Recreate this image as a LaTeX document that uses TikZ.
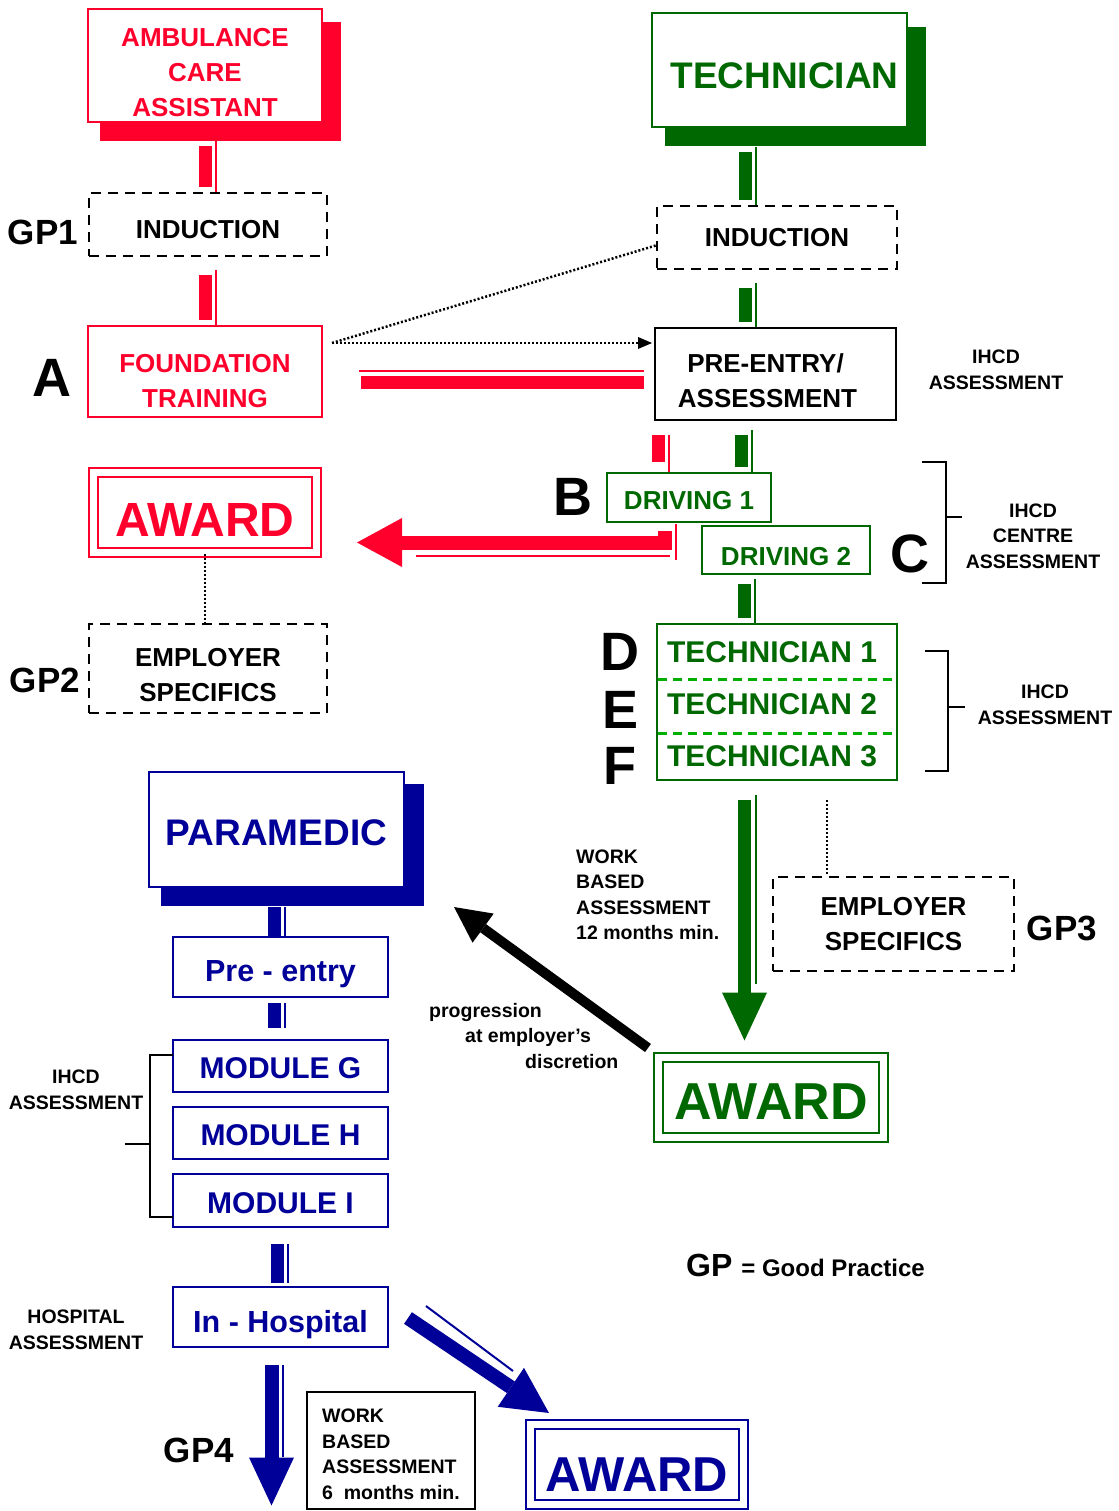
\documentclass[tikz,border=0pt]{standalone}
\usepackage{fontspec}
\setmainfont{Liberation Sans}
\usetikzlibrary{arrows.meta,calc,backgrounds}
\definecolor{acared}{RGB}{255,0,45}
\definecolor{techgreen}{RGB}{0,104,0}
\definecolor{sepgreen}{RGB}{0,175,0}
\definecolor{parablue}{RGB}{0,0,153}
\newcommand{\fsz}[2]{\fontsize{#1}{#2}\selectfont\bfseries}
\newcommand{\topline}[1]{\rule{0pt}{#1pt}}
\newcommand{\twin}[4][]{%
  \draw[#2, line width=13pt, shorten <=5pt, shorten >=5pt, #1] (#3) -- (#4);
  \draw[#2, line width=2pt] ($(#3)!11pt!90:(#4)$) -- ($(#4)!11pt!-90:(#3)$);
}
\tikzset{
  wh/.style 2 args={minimum width=#1pt, minimum height=#2pt},
  lift/.style={execute at begin node={\rule{0pt}{#1pt}}},
  box/.style={draw, line width=2pt, fill=white, inner sep=0pt, align=center},
  acabox/.style={box, draw=acared, text=acared},
  techbox/.style={box, draw=techgreen, text=techgreen},
  parabox/.style={box, draw=parablue, text=parablue},
  gpbox/.style={box, line width=2.5pt, dash pattern=on 10pt off 7pt},
  awardbox/.style={double, double distance=7pt, font=\fsz{48}{48}},
  gplabel/.style={inner sep=0pt, font=\fsz{35}{35}},
  letter/.style={inner sep=0pt, font=\fsz{54}{54}},
  note/.style={inner sep=0pt, align=center, font=\fsz{19.5}{25.5}},
  dots/.style={line width=2.5pt, dash pattern=on 2pt off 2pt},
  bracket/.style={line width=2pt},
  sepline/.style={sepgreen, line width=3pt, dash pattern=on 9pt off 6pt},
}
\begin{document}
\begin{tikzpicture}[x=1pt, y=-1pt]
\useasboundingbox (0,0) rectangle (1118,1511);

\node[acabox, wh={234}{113}, font=\fsz{26}{35}] (aca) at (205,65.5) {\topline{32.7}AMBULANCE\\CARE\\ASSISTANT};
\node[gpbox, wh={238}{63}, lift=28.7, font=\fsz{26}{35}] (ind1) at (208,224.5) {INDUCTION};
\node[acabox, wh={234}{91}, font=\fsz{26}{35}] (found) at (205,371.5) {\topline{36.7}FOUNDATION\\TRAINING};
\node[acabox, awardbox, wh={223}{80}, lift=48.6] (awr) at (205,512.5) {AWARD};
\node[gpbox, wh={238}{89}, font=\fsz{26}{35}] (emp1) at (208,668.5) {\topline{30.7}EMPLOYER\\SPECIFICS};

\node[techbox, wh={255}{114}, lift=36.6, font=\fsz{37}{37}] (tech) at (779.5,70) {\hspace*{10pt}TECHNICIAN};
\node[gpbox, wh={240}{63}, font=\fsz{26}{35}] (ind2) at (777,237.5) {INDUCTION};
\node[box, wh={241}{92}, font=\fsz{26}{35}] (pre) at (775.5,374) {\topline{32.7}PRE-ENTRY/\hspace*{20pt}\\ASSESSMENT\hspace*{16pt}};
\node[techbox, wh={164}{49}, lift=24.7, font=\fsz{26}{35}] (drv1) at (689,497.5) {DRIVING 1};
\node[techbox, wh={168}{48}, lift=30.7, font=\fsz{26}{35}] (drv2) at (786,550) {DRIVING 2};
\node[techbox, wh={240}{156}] (techs) at (777,702) {};
\node[inner sep=0pt, text=techgreen, font=\fsz{30}{30}] (t1) at (772,652) {TECHNICIAN 1};
\node[inner sep=0pt, text=techgreen, font=\fsz{30}{30}] (t2) at (772,704) {TECHNICIAN 2};
\node[inner sep=0pt, text=techgreen, font=\fsz{30}{30}] (t3) at (772,756) {TECHNICIAN 3};
\node[gpbox, wh={241}{94}, font=\fsz{26}{35}] (emp2) at (893.5,924) {EMPLOYER\\SPECIFICS};
\node[techbox, awardbox, wh={225}{80}, lift=43.4, font=\fsz{52}{52}] (awg) at (771,1097.5) {AWARD};

\node[parabox, wh={255}{115}, lift=32.6, font=\fsz{37}{37}] (para) at (276.5,829.5) {PARAMEDIC};
\node[parabox, wh={215}{60}, lift=36, font=\fsz{30.5}{30.5}] (preen) at (280.5,967) {Pre - entry};
\node[parabox, wh={215}{52}, lift=25.6, font=\fsz{30}{30}] (modg) at (280.5,1066) {MODULE G};
\node[parabox, wh={215}{52}, lift=25.6, font=\fsz{30}{30}] (modh) at (280.5,1133) {MODULE H};
\node[parabox, wh={215}{53}, lift=25.6, font=\fsz{30}{30}] (modi) at (280.5,1200.5) {MODULE I};
\node[parabox, wh={215}{60}, lift=38, font=\fsz{30.5}{30.5}] (inh) at (280.5,1317) {In - Hospital};
\node[box, wh={168}{117}, align=left, font=\fsz{19.5}{25.5}] (wbb) at (391,1450.5) {\topline{21}WORK\\BASED\\ASSESSMENT\\6\ \ months min.};
\node[parabox, awardbox, wh={213}{80}, lift=53.3, font=\fsz{49}{49}] (awb) at (637,1464.5) {AWARD};

\node[gplabel] (gp1) at (43,232) {GP1};
\node[gplabel] (gp2) at (45,680) {GP2};
\node[gplabel] (gp3) at (1062,928) {GP3};
\node[gplabel] (gp4) at (199,1450) {GP4};
\node[letter] (letA) at (52,378) {A};
\node[letter] (letB) at (573,497) {B};
\node[letter] (letC) at (910,554) {C};
\node[letter] (letD) at (620,652) {D};
\node[letter] (letE) at (620,710) {E};
\node[letter] (letF) at (620,766) {F};

\node[note] (ihcda) at (996,370) {IHCD\\ASSESSMENT};
\node[note] (ihcdc) at (1033,536) {IHCD\\CENTRE\\ASSESSMENT};
\node[note] (ihcdt) at (1045,705) {IHCD\\ASSESSMENT};
\node[note] (ihcdm) at (76,1090) {IHCD\\ASSESSMENT};
\node[note] (hosp) at (76,1330) {HOSPITAL\\ASSESSMENT};
\node[note, align=left, anchor=west] (wba) at (576,895) {WORK\\BASED\\ASSESSMENT\\12 months min.};
\node[note, align=left, anchor=west] (prog) at (429,1036) {progression\\\hspace*{36pt}at employer’s\\\hspace*{96pt}discretion};
\node[inner sep=0pt, anchor=base west] (legend) at (686,1276) {\fsz{32}{32}GP \fsz{24}{24}= Good Practice};

\begin{scope}[on background layer]
\fill[acared] ($(aca.north west)+(13,14)$) rectangle ($(aca.south east)+(18,18)$);
\fill[techgreen] ($(tech.north west)+(14,15)$) rectangle ($(tech.south east)+(18,18)$);
\fill[parablue] ($(para.north west)+(13,13)$) rectangle ($(para.south east)+(19,18)$);
\end{scope}

\coordinate (a1) at ($(aca.south)+(0,18)$);
\twin{acared}{a1}{a1 |- ind1.north}
\coordinate (a2) at ($(ind1.south -| a1)+(0,13)$);
\twin{acared}{a2}{a2 |- found.north}
\coordinate (a3) at ($(found.east)+(36,10.5)$);
\coordinate (a3e) at ($(a3 -| pre.west)+(-10,0)$);
\twin[shorten <=2pt, shorten >=0pt]{acared}{a3}{a3e}

\coordinate (b1) at ($(tech.south)+(-34.5,19)$);
\twin{techgreen}{b1}{b1 |- ind2.north}
\coordinate (b2) at ($(ind2.south -| b1)+(0,13)$);
\twin{techgreen}{b2}{b2 |- pre.north}
\coordinate (c1) at ($(pre.south)+(-117.5,14)$);
\twin[shorten <=0pt, shorten >=10pt]{acared}{c1}{c1 |- drv1.north}
\coordinate (c2) at ($(pre.south)+(-34.5,9)$);
\twin{techgreen}{c2}{c2 |- drv1.north}
\coordinate (c3) at ($(drv2.south)+(-42,4)$);
\twin{techgreen}{c3}{c3 |- techs.north}

\coordinate (r1) at ($(drv1.south)+(-24.5,8)$);
\coordinate (r2) at ($(r1)+(0,11.5)$);
\coordinate (r3) at ($(awr.east)+(39.5,30)$);
\draw[acared, line width=14pt, -{Triangle[width=49pt,length=45pt,line width=0pt]}] (r1) -- (r2) -- (r3);
\draw[acared, line width=2pt] ($(r1)+(11.5,-7)$) -- ($(r2)+(11.5,17.5)$);
\draw[acared, line width=2pt] ($(r2)+(5.5,13.5)$) -- ($(r3)+(59,13.5)$);

\coordinate (g1) at ($(techs.south)+(-32.5,19)$);
\coordinate (g2) at ($(g1 |- awg.north)+(0,-16)$);
\draw[techgreen, line width=13pt, -{Triangle[width=45pt,length=48pt,line width=0pt]}] (g1) -- (g2);
\draw[techgreen, line width=2pt] ($(g1)+(11.5,-5)$) -- ($(g2)+(11.5,-57)$);

\coordinate (k1) at ($(awg.north west)+(-9.5,-8.5)$);
\coordinate (k2) at ($(para.south east)+(49,19)$);
\draw[line width=10pt, -{Triangle[width=36pt,length=36pt,line width=0pt]}] (k1) -- (k2);

\coordinate (p1) at ($(para.south)+(-2.5,19)$);
\twin[shorten <=0pt, shorten >=0pt]{parablue}{p1}{p1 |- preen.north}
\coordinate (p2) at ($(preen.south -| p1)+(0,5)$);
\coordinate (p2e) at ($(p2 |- modg.north)+(0,-11)$);
\twin[shorten <=0pt, shorten >=0pt]{parablue}{p2}{p2e}
\coordinate (p3) at ($(modi.south)+(-3.5,16)$);
\coordinate (p3e) at ($(p3 |- inh.north)+(0,-3)$);
\twin[shorten <=0pt, shorten >=0pt]{parablue}{p3}{p3e}

\coordinate (h1) at ($(inh.south)+(-9,17)$);
\coordinate (h2) at (h1 |- awb.south);
\draw[parablue, line width=14pt, -{Triangle[width=45pt,length=48pt,line width=0pt]}] (h1) -- (h2);
\draw[parablue, line width=2pt] ($(h1)+(11.5,0)$) -- ($(h2)+(11.5,-49)$);

\coordinate (d1) at ($(inh.east)+(19,1)$);
\coordinate (d2) at ($(awb.north west)+(19.5,-10.5)$);
\draw[parablue, line width=14pt, -{Triangle[width=47pt,length=46pt,line width=0pt]}] (d1) -- (d2);
\draw[parablue, line width=2pt] ($(d1)+(18,-12)$) -- ($(d1)+(105,53)$);

\coordinate (fork) at ($(found.north east)+(9,18)$);
\draw[dots] (fork) -- ($(ind2.west)+(0,8)$);
\draw[dots, -{Triangle[width=12pt,length=14pt,line width=0pt]}, shorten >=2pt] (fork) -- (fork -| pre.west);
\draw[dots] (awr.south) -- (awr.south |- emp1.north);
\coordinate (tdot) at ($(techs.south)+(50,19)$);
\draw[dots] (tdot) -- (tdot |- emp2.north);

\draw[sepline] ($(techs.north west)+(2,56)$) -- ($(techs.north east)+(-2,56)$);
\draw[sepline] ($(techs.north west)+(2,110)$) -- ($(techs.north east)+(-2,110)$);

\draw[bracket] (922,462) -- (946,462) -- (946,583) -- (922,583) (946,517) -- (962,517);
\draw[bracket] (925,651) -- (948,651) -- (948,771) -- (925,771) (948,707) -- (965,707);
\draw[bracket] (173,1055) -- (150,1055) -- (150,1217) -- (173,1217) (125,1144) -- (150,1144);
\end{tikzpicture}
\end{document}
